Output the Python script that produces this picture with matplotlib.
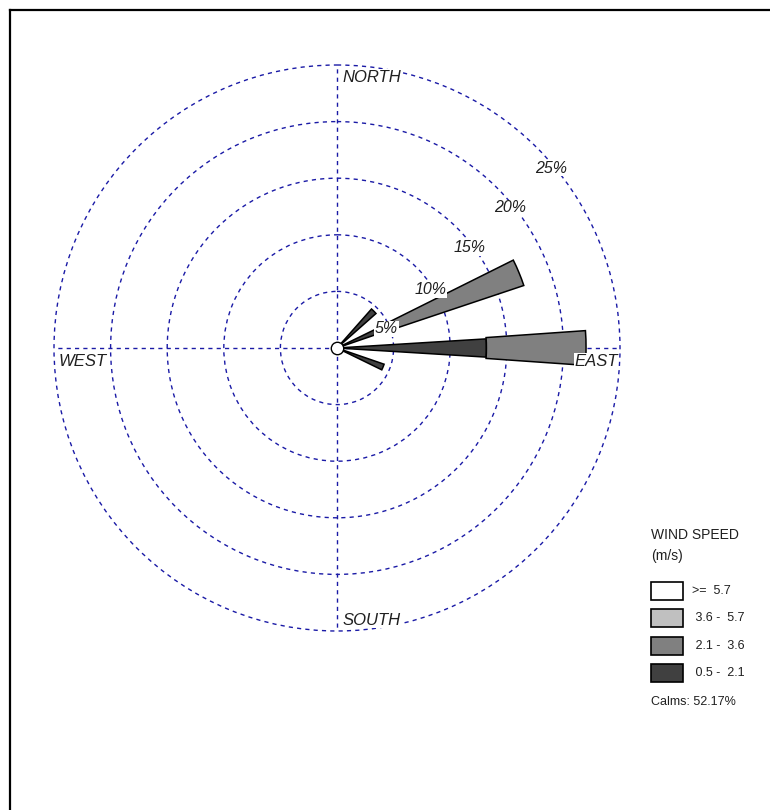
import numpy as np
import matplotlib
matplotlib.use("Agg")
import matplotlib.pyplot as plt
from matplotlib.lines import Line2D
from matplotlib.patches import Rectangle

# wind rose data: direction (deg from north) and frequency (%) per speed class
directions = [45.0, 67.5, 90.0, 112.5]
freq_05_21 = [4.6, 5.0, 13.2, 4.4]
freq_21_36 = [0.0, 12.4, 8.8, 0.0]
freq_36_57 = [0.0, 0.0, 0.0, 0.0]
freq_57_up = [0.0, 0.0, 0.0, 0.0]
calms_pct = 52.17

speed_labels = [">=  5.7", " 3.6 -  5.7", " 2.1 -  3.6", " 0.5 -  2.1"]
speed_colors = ["#ffffff", "#c0c0c0", "#808080", "#404040"]
ring_values = [5, 10, 15, 20, 25]
ring_label_bearing = [69, 58, 53, 51, 50]

plt.rcParams["font.family"] = ["Liberation Sans", "DejaVu Sans"]
grid_blue = "#1a1aa6"

fig = plt.figure(figsize=(7.7, 8.1), dpi=100, facecolor="white")
ax = fig.add_axes([54 / 770, 1 - 631 / 810, 566 / 770, 566 / 810], projection="polar")
ax.set_theta_zero_location("N")
ax.set_theta_direction(-1)
ax.set_ylim(0, 25)
ax.spines["polar"].set_visible(False)
ax.set_rgrids(ring_values, labels=[""] * len(ring_values))
ax.set_thetagrids([0, 90, 180, 270], labels=[""] * 4)
ax.grid(True, color=grid_blue, linestyle=(0, (3, 3)), linewidth=1.0)
for gl in ax.yaxis.get_gridlines() + ax.xaxis.get_gridlines():
    gl.set_clip_on(False)
ax.set_facecolor("none")

theta = np.radians(directions)
widths = {0: np.radians(7.0), 1: np.radians(8.0)}
stack = [freq_05_21, freq_21_36, freq_36_57, freq_57_up]
colors_by_class = speed_colors[::-1]
bottom = np.zeros(len(directions))
for i, values in enumerate(stack):
    values = np.asarray(values)
    mask = values > 0
    if mask.any():
        ax.bar(theta[mask], values[mask], width=widths.get(i, np.radians(8.0)),
               bottom=bottom[mask], color=colors_by_class[i], edgecolor="black",
               linewidth=1.1, zorder=3)
    bottom = bottom + values

# calm circle
ax.scatter([0], [0], s=80, facecolor="white", edgecolor="black", linewidth=1.0,
           zorder=6, clip_on=False)

# ring labels
for val, brg in zip(ring_values, ring_label_bearing):
    ax.text(np.radians(brg), val - 0.3, f"{val}%", ha="center", va="center",
            fontsize=11.5, style="italic", color="#202020", zorder=5,
            bbox=dict(facecolor="white", edgecolor="none", pad=0.5))

# compass labels
lab = dict(fontsize=12, style="italic", color="#202020", transform=ax.transAxes,
           zorder=5, bbox=dict(facecolor="white", edgecolor="none", pad=0.5))
ax.text(0.510, 0.992, "NORTH", ha="left", va="top", **lab)
ax.text(0.008, 0.490, "WEST", ha="left", va="top", **lab)
ax.text(0.996, 0.490, "EAST", ha="right", va="top", **lab)
ax.text(0.510, 0.006, "SOUTH", ha="left", va="bottom", **lab)

# legend
fig.text(651 / 770, 1 - 535 / 810, "WIND SPEED", fontsize=10, va="center", ha="left",
         color="#202020")
fig.text(651 / 770, 1 - 556 / 810, "(m/s)", fontsize=10, va="center", ha="left",
         color="#202020")
box_tops = [582, 609, 637, 664]
for top, label, color in zip(box_tops, speed_labels, speed_colors):
    fig.add_artist(Rectangle((651 / 770, 1 - (top + 18) / 810), 32 / 770, 18 / 810,
                             transform=fig.transFigure, facecolor=color,
                             edgecolor="black", linewidth=1.2))
    fig.text(692 / 770, 1 - (top + 9) / 810, label, fontsize=9, va="center",
             ha="left", color="#202020")
fig.text(651 / 770, 1 - 702 / 810, f"Calms: {calms_pct:.2f}%", fontsize=9,
         va="center", ha="left", color="#202020")

# frame lines (top and left)
fig.add_artist(Line2D([9.5 / 770, 9.5 / 770], [0, 1 - 9.5 / 810], color="black",
                      linewidth=1.6, transform=fig.transFigure))
fig.add_artist(Line2D([9.5 / 770, 1], [1 - 9.5 / 810, 1 - 9.5 / 810], color="black",
                      linewidth=1.6, transform=fig.transFigure))

fig.savefig("out.png", dpi=100, facecolor="white")
